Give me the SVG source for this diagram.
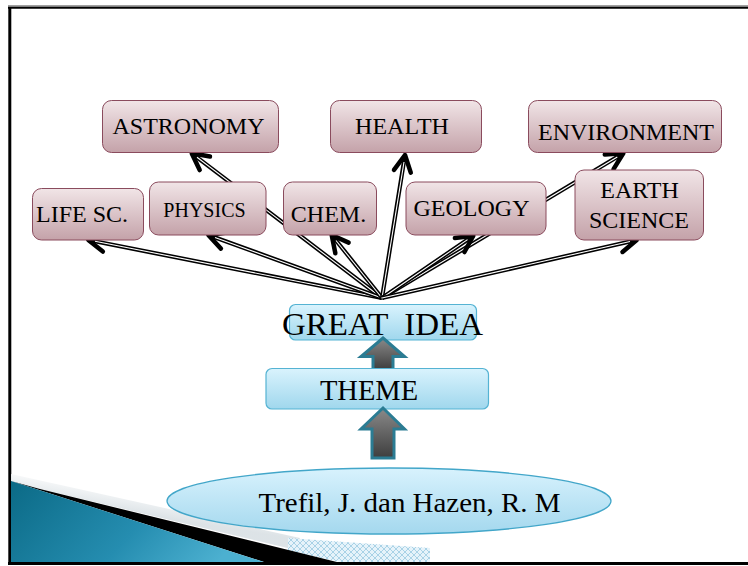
<svg xmlns="http://www.w3.org/2000/svg" width="748" height="566" viewBox="0 0 748 566">
  <defs>
    <linearGradient id="gPink" x1="0" y1="0" x2="0" y2="1">
      <stop offset="0" stop-color="#f1e5e7"/>
      <stop offset="1" stop-color="#c4a2a9"/>
    </linearGradient>
    <linearGradient id="gBlue" x1="0" y1="0" x2="0" y2="1">
      <stop offset="0" stop-color="#d9f3fd"/>
      <stop offset="1" stop-color="#a0d7ed"/>
    </linearGradient>
    <linearGradient id="gOval" x1="0" y1="0" x2="0" y2="1">
      <stop offset="0" stop-color="#d8f2fd"/>
      <stop offset="1" stop-color="#a4d8ee"/>
    </linearGradient>
    <linearGradient id="gBlock" x1="0" y1="0" x2="0" y2="1">
      <stop offset="0" stop-color="#8a8a8a"/>
      <stop offset="1" stop-color="#3e3e3e"/>
    </linearGradient>
    <linearGradient id="gTeal" x1="0" y1="0" x2="1" y2="0.3">
      <stop offset="0" stop-color="#0b6a86"/>
      <stop offset="0.6" stop-color="#258db0"/>
      <stop offset="1" stop-color="#4cb0d0"/>
    </linearGradient>
    <linearGradient id="gSheen" gradientUnits="userSpaceOnUse" x1="150" y1="490" x2="146" y2="515">
      <stop offset="0" stop-color="#ffffff"/>
      <stop offset="1" stop-color="#d9e0e4"/>
    </linearGradient>
    <pattern id="pCheck" width="6" height="6" patternUnits="userSpaceOnUse">
      <rect width="6" height="6" fill="#e6f3fa"/>
      <path d="M0 3 L3 0 L6 3 L3 6 Z" fill="none" stroke="#a9d2e6" stroke-width="1"/>
    </pattern>
    <marker id="chev" markerUnits="userSpaceOnUse" markerWidth="34" markerHeight="34"
            viewBox="-22 -17 34 34" refX="0" refY="0" orient="auto">
      <path d="M-16.5 -8.5 L0 0 L-16.5 8.5" fill="none" stroke="#000" stroke-width="4.5"
            stroke-linecap="round" stroke-linejoin="round"/>
    </marker>
  </defs>
  <style>
    .lbl { font-family: "Liberation Serif", "Times New Roman", serif; fill: #000; text-anchor: middle; }
    .pink { fill: url(#gPink); stroke: #8a4b5d; stroke-width: 1; }
    .blue { fill: url(#gBlue); stroke: #55b3d3; stroke-width: 1.2; }
    .cOut { fill: none; stroke: #000; stroke-width: 4.2; marker-end: url(#chev); }
    .cIn { fill: none; stroke: #fff; stroke-width: 1.1; }
    .block { fill: url(#gBlock); stroke: #2b7c93; stroke-width: 3; stroke-linejoin: miter; }
  </style>

  <rect width="748" height="566" fill="#ffffff"/>

  <!-- slide frame -->
  <g id="frame">
    <line x1="8" y1="5.5" x2="748" y2="5.5" stroke="#a0a0a0" stroke-width="1"/>
    <line x1="8" y1="7.6" x2="748" y2="7.6" stroke="#000" stroke-width="2.4"/>
    <line x1="9.8" y1="7" x2="9.8" y2="565" stroke="#000" stroke-width="3"/>
  </g>

  <!-- corner decoration -->
  <g id="corner">
    <polygon points="11,474 300,538 300,551 40,489 11,481" fill="url(#gSheen)" opacity="0.9"/>
    <polygon points="288,538 430,548 430,563 345,563 288,551" fill="url(#pCheck)"/>
    <polygon points="40,489 345,564 270,564 11,481" fill="#000"/>
    <polygon points="11,481 270,564 11,564" fill="url(#gTeal)"/>
    <line x1="8" y1="563.6" x2="748" y2="563.6" stroke="#000" stroke-width="3"/>
  </g>

  <!-- connectors fanning out from GREAT IDEA -->
  <g id="connectors">
    <path class="cOut" d="M382 298 L191.7 153.3"/>
    <path class="cIn" d="M382 298 L197 157.3"/>
    <path class="cOut" d="M382 298 L623.3 153.3"/>
    <path class="cIn" d="M382 298 L617.3 157"/>
    <path class="cOut" d="M382 298 L88.3 240"/>
    <path class="cIn" d="M382 298 L95 241.3"/>
    <path class="cOut" d="M382 298 L208.3 235"/>
    <path class="cIn" d="M382 298 L215 237.5"/>
    <path class="cOut" d="M382 298 L331.7 235"/>
    <path class="cIn" d="M382 298 L336 240.5"/>
    <path class="cOut" d="M382 298 L405 155"/>
    <path class="cIn" d="M382 298 L404 162"/>
    <path class="cOut" d="M382 298 L473.3 235.7"/>
    <path class="cIn" d="M382 298 L467.5 239.6"/>
    <path class="cOut" d="M382 298 L636.7 240"/>
    <path class="cIn" d="M382 298 L630 241.5"/>
  </g>

  <g id="astronomy">
    <rect class="pink" x="102.5" y="100.5" width="176" height="52" rx="9"/>
    <text class="lbl" x="188.5" y="133.5" font-size="24">ASTRONOMY</text>
  </g>
  <g id="health">
    <rect class="pink" x="330.5" y="100.5" width="151" height="52" rx="9"/>
    <text class="lbl" x="402" y="133.5" font-size="24">HEALTH</text>
  </g>
  <g id="environment">
    <rect class="pink" x="528.5" y="100.5" width="193" height="52" rx="9"/>
    <text class="lbl" x="626" y="140" font-size="24">ENVIRONMENT</text>
  </g>
  <g id="life-sc">
    <rect class="pink" x="32.5" y="188.5" width="111" height="51.5" rx="9"/>
    <text class="lbl" x="82" y="222" font-size="24">LIFE SC.</text>
  </g>
  <g id="physics">
    <rect class="pink" x="149.5" y="182" width="116.5" height="53" rx="9"/>
    <text class="lbl" x="204.5" y="217" font-size="20">PHYSICS</text>
  </g>
  <g id="chem">
    <rect class="pink" x="283.5" y="182" width="93" height="53" rx="9"/>
    <text class="lbl" x="328.5" y="222" font-size="24">CHEM.</text>
  </g>
  <g id="geology">
    <rect class="pink" x="406" y="182" width="140" height="53" rx="9"/>
    <text class="lbl" x="471.5" y="215.5" font-size="24">GEOLOGY</text>
  </g>
  <g id="earth-science">
    <rect class="pink" x="575" y="170" width="128.5" height="70" rx="9"/>
    <text class="lbl" x="639.5" y="197.5" font-size="24">EARTH</text>
    <text class="lbl" x="639" y="227.5" font-size="24">SCIENCE</text>
  </g>

  <g id="great-idea">
    <rect class="blue" x="289.5" y="304.5" width="187" height="35.5" rx="6"/>
    <text class="lbl" x="382.5" y="334.5" font-size="32" textLength="201" lengthAdjust="spacingAndGlyphs" xml:space="preserve" style="white-space:pre">GREAT  IDEA</text>
  </g>

  <g id="arrow-up-1">
    <polygon class="block" points="383,338 404.5,356.5 393,356.5 393,369.5 373,369.5 373,356.5 361,356.5"/>
  </g>

  <g id="theme">
    <rect class="blue" x="266" y="368.5" width="222.5" height="40.5" rx="6"/>
    <text class="lbl" x="369" y="400" font-size="28.5">THEME</text>
  </g>

  <g id="arrow-up-2">
    <polygon class="block" points="383,408 404.5,429 394,429 394,458 372,458 372,429 361,429"/>
  </g>

  <g id="source">
    <ellipse cx="389" cy="501" rx="222" ry="33" fill="url(#gOval)" stroke="#42a6c9" stroke-width="1.3"/>
    <text class="lbl" x="409.5" y="512" font-size="28" textLength="302" lengthAdjust="spacingAndGlyphs">Trefil, J. dan Hazen, R. M</text>
  </g>
</svg>
